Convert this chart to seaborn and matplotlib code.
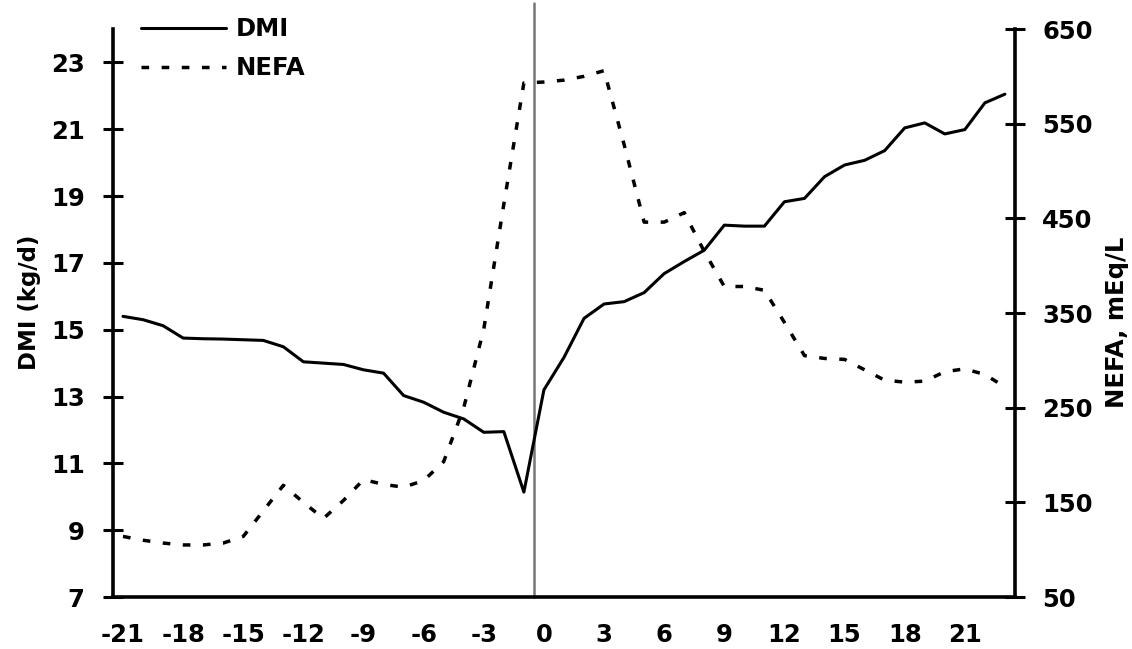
import numpy as np
import pandas as pd
import matplotlib
matplotlib.use("Agg")
import matplotlib.pyplot as plt
from matplotlib.lines import Line2D
import seaborn as sns

days = list(range(-21, 24))
dmi = [15.4, 15.3, 15.12, 14.75, 14.73, 14.72, 14.70, 14.68, 14.49, 14.04, 14.0, 13.96,
       13.80, 13.70, 13.03, 12.83, 12.53, 12.33, 11.93, 11.95, 10.14,
       13.2, 14.17, 15.34, 15.77, 15.84, 16.11, 16.68, 17.04, 17.38, 18.13, 18.10, 18.10,
       18.83, 18.93, 19.58, 19.93, 20.07, 20.36, 21.04, 21.19, 20.86, 20.99, 21.79, 22.05]
nefa = [114, 110, 107, 105, 105, 107, 114, 141, 168, 150, 133, 152,
        174, 169, 166, 173, 193, 250, 333, 465, 593,
        594, 596, 600, 606, 528, 446, 446, 456, 415, 378, 378, 374,
        340, 305, 302, 301, 290, 279, 277, 278, 288, 291, 285, 272]
x_labels = list(range(-21, 22, 3))
left_ticks = list(range(7, 24, 2))
right_ticks = list(range(50, 651, 100))

df = pd.DataFrame({"day": days, "DMI": dmi, "NEFA": nefa})

sns.set_style("white")
plt.rcParams["font.family"] = ["DejaVu Sans"]
plt.rcParams["font.weight"] = "bold"
plt.rcParams["text.color"] = "black"
plt.rcParams["axes.labelcolor"] = "black"
plt.rcParams["xtick.color"] = "black"
plt.rcParams["ytick.color"] = "black"

fig = plt.figure(figsize=(11.32, 6.49), dpi=100)
ax = fig.add_axes([0.0998, 0.0801, 0.7968, 0.8752])
ax2 = ax.twinx()

lw = 2.2
lw2 = 2.5
dash = (0, (2.2, 3.6))
sns.lineplot(data=df, x="day", y="DMI", ax=ax, color="black", linewidth=lw, legend=False)
sns.lineplot(data=df, x="day", y="NEFA", ax=ax2, color="black", linewidth=lw2,
             linestyle=dash, legend=False)

ax.set_xlim(-21.5, 23.5)
ax.set_ylim(7, 24)
ax2.set_ylim(50, 650)

fs = 17.5
ax.set_xticks(x_labels, [str(v) for v in x_labels])
ax.set_xticks(np.arange(-21.5, 23.6, 3), minor=True)
ax.tick_params(axis="x", which="major", length=0, pad=19, labelsize=fs, labelcolor="black")
ax.tick_params(axis="x", which="minor", length=15, width=2.2, direction="inout", color="black")

ax.set_yticks(left_ticks, [str(v) for v in left_ticks])
ax.tick_params(axis="y", which="major", length=15, width=2.2, direction="inout", pad=13,
               labelsize=fs, left=True, color="black", labelcolor="black")
ax2.set_yticks(right_ticks, [str(v) for v in right_ticks])
ax2.tick_params(axis="y", which="major", length=15, width=2.2, direction="inout", pad=12,
                labelsize=fs, right=True, color="black", labelcolor="black")

for a in (ax, ax2):
    a.spines["top"].set_visible(False)
    for s in ("left", "right", "bottom"):
        a.spines[s].set_linewidth(2.6)
        a.spines[s].set_color("black")
ax.spines["right"].set_visible(False)
ax2.spines["left"].set_visible(False)
ax2.spines["bottom"].set_visible(False)

ax.set_xlabel("")
ax.set_ylabel("DMI (kg/d)", fontsize=16.5, fontweight="bold", color="black")
ax.yaxis.set_label_coords(-0.080, 0.519)
ax2.set_ylabel("NEFA, mEq/L", fontsize=17.5, fontweight="bold", color="black")
ax2.yaxis.set_label_coords(1.0998, 0.484)

ax.axvline(-0.5, ymin=0, ymax=1.045, color="#777777", linewidth=1.8, clip_on=False, zorder=1)

handles = [Line2D([], [], color="black", linewidth=lw),
           Line2D([], [], color="black", linewidth=lw2, linestyle=dash)]
fig.legend(handles, ["DMI", "NEFA"], loc="upper left", bbox_to_anchor=(0.112, 0.996),
           frameon=False, handlelength=3.5, handletextpad=0.4,
           labelspacing=0.62, borderaxespad=0.2, prop={"weight": "bold", "size": fs})

fig.savefig("out.png", dpi=100)
